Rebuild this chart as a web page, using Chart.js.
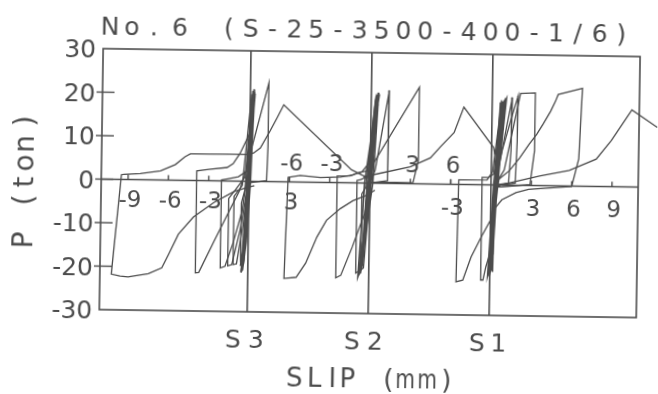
<!DOCTYPE html>
<html>
<head>
<meta charset="utf-8">
<script src="https://cdn.jsdelivr.net/npm/chart.js@4.4.1/dist/chart.umd.min.js"></script>
<style>
  html, body { margin: 0; padding: 0; background: #fff; overflow: hidden; }
  /* the scanned sheet sits slightly skewed */
  #wrap { width: 658px; height: 394px; transform: rotate(0.85deg); transform-origin: 50% 50%; }
</style>
</head>
<body>
<div id="wrap"><canvas id="chart" width="658" height="394"></canvas></div>
<script>
// gauge origins on the shared slip axis (mm)
const S3_AT = 0, S2_AT = 9, S1_AT = 18;

const loadTicks = [30, 20, 10, 0, -10, -20, -30];
const s3Ticks = [-9, -6, -3, 3];
const s2Ticks = [-6, -3, 3, 6];
const s1Ticks = [-3, 3, 6, 9];
const gaugeNames = ['S3', 'S2', 'S1'];

// ── S3 ──
const s3EnvSlip = [9.0, 8.4, 7.6, 2.5, 2.0, 1.5, 0.8, 0.3, 0.0, -0.6, -1.5, -3.0, -4.4, -4.8, -5.5, -6.6, -8.1, -9.3, -9.5, -10.15, -9.5, -8.9, -7.4, -6.4, -5.9, -5.2, -4.1, -2.6, -1.1, 0.0, 0.4];
const s3EnvLoad = [1.0, 1.8, 3.0, 17.7, 14.6, 11.6, 7.7, 6.5, 6.2, 6.2, 6.2, 6.1, 6.1, 5.4, 3.6, 2.1, 1.4, 1.2, 1.1, -21.8, -22.2, -22.4, -21.6, -20.2, -17.0, -12.4, -8.4, -5.0, -2.4, -1.3, -1.0];
const s3CoreSlip = [0.0, 0.1, 0.2, 0.12, -0.1, -0.3, -0.4, -0.3, -0.05, 0.12, 0.28, 0.2, -0.05, -0.28, -0.45, -0.35, -0.08, 0.1, 0.25, 0.15, -0.1, -0.32, -0.5, -0.38, -0.05, 0.15, 0.3, 0.2, -0.08, -0.3, -0.42, -0.3, 0.0];
const s3CoreLoad = [0, 12, 20.8, 18.5, 0, -14, -20.5, -18, 0, 13, 21.2, 19, 0, -13, -20, -17, 0, 14, 20.5, 18, 0, -15, -21, -19, 0, 13, 21, 19, 0, -12, -19.8, -16, 0];
const s3Core2Slip = [0.05, 0.2, 0.32, 0.25, 0.0, -0.25, -0.55, -0.45, -0.1, 0.18, 0.35, 0.28, 0.02, -0.2, -0.48, -0.4, -0.12, 0.05, 0.22, 0.3, 0.1, -0.15, -0.35, -0.25, 0.05];
const s3Core2Load = [0, 11, 19.8, 17, 0, -12, -19.5, -18, 0, 12, 20.2, 18, 0, -12, -20.8, -18, 0, 10, 18, 20.5, 0, -14, -19.2, -16, 0];
const s3LoopASlip = [0.25, 0.0, -0.5, -0.7, -1.2, -1.65, -3.0, -3.9, -3.9, -3.65, -2.5, -1.4, -0.7, -0.2, 0.1, 0.3];
const s3LoopALoad = [20, 11, 7.7, 6.4, 4.0, 3.1, 2.6, 2.2, -21.2, -21.1, -13.6, -6.6, -2.2, 3, 12, 20.5];
const s3LoopBSlip = [0.2, -0.1, -0.8, -1.6, -2.05, -2.05, -1.7, -1.1, -0.5, -0.1, 0.15];
const s3LoopBLoad = [18, 2.5, 1.0, 0.5, 0.2, -20.0, -19.6, -14, -7, 2, 19];
const s3LoopCSlip = [0.15, -0.3, -1.0, -1.5, -1.5, -1.2, -0.6, -0.2, 0.2];
const s3LoopCLoad = [19, 1.0, -2, -4, -19.5, -19.2, -11, -3, 19.5];
const s3LoopDSlip = [0.1, -0.5, -1.1, -1.1, -0.85, -0.4, -0.1, 0.25];
const s3LoopDLoad = [20, -1, -3.5, -19.2, -19, -10, -1, 20.2];
const s3LoopESlip = [0.2, -0.3, -0.55, -0.55, -0.35, -0.05, 0.2];
const s3LoopELoad = [20, -2, -5, -18.5, -18.3, -4, 19.8];
const s3PeakSlip = [-0.2, 0.05, 1.37, 1.37, 1.3, 0.3, -0.2];
const s3PeakLoad = [-0.5, 6.3, 22.7, 8, 0.2, -0.2, -0.5];

// ── S2 ──
const s2EnvSlip = [0.1, -0.97, -1.3, -2.2, -3.7, -5.2, -5.95, -6.1, -6.3, -5.4, -4.7, -3.9, -3.2, -2.2, -1.26, -0.22, 0.37];
const s2EnvLoad = [3.0, 2.3, 1.8, 1.3, 1.1, 1.5, 1.1, 1.0, -22.2, -21.9, -18.6, -12.6, -8.7, -6.0, -4.1, -2.8, -1.6];
const s2RiseSlip = [-0.5, 0.74, 2.97, 4.46, 5.2, 6.2, 6.9, 9.15, 9.25];
const s2RiseLoad = [1.4, 2.3, 3.9, 6.0, 8.6, 11.9, 17.8, 8.6, 7.0];
const s2CoreSlip = [-0.15, 0.2, 0.45, 0.3, -0.1, -0.45, -0.7, -0.5, -0.1, 0.25, 0.55, 0.4, 0.0, -0.4, -0.65, -0.45, -0.05, 0.3, 0.6, 0.45, 0.0, -0.45, -0.75, -0.55, -0.1, 0.25, 0.5, 0.35, -0.05, -0.4, -0.7, -0.5, -0.15];
const s2CoreLoad = [0, 12, 20.3, 18, 0, -14, -21, -19, 0, 13, 20.8, 19, 0, -13, -20.3, -18, 0, 14, 20.5, 18, 0, -15, -21.2, -19, 0, 13, 20.6, 18.5, 0, -12, -20.5, -17, 0];
const s2Core2Slip = [-0.1, 0.15, 0.38, 0.5, 0.2, -0.3, -0.6, -0.8, -0.4, 0.1, 0.32, 0.42, 0.05, -0.35, -0.55, -0.62, -0.2];
const s2Core2Load = [0, 11, 19.5, 18, 0, -12, -19.8, -21.5, 0, 12, 19, 20.2, 0, -13, -19, -20.8, 0];
const s2LoopASlip = [0.45, 0.0, -0.6, -1.5, -2.45, -2.45, -2.08, -1.26, -0.37, 0.1, 0.45];
const s2LoopALoad = [20, 5, 2.6, 1.6, 1.5, -21.9, -21.3, -14.8, -7.0, 1, 19.5];
const s2LoopBSlip = [0.4, -0.2, -0.7, -0.97, -0.97, -0.75, -0.4, 0.0, 0.4];
const s2LoopBLoad = [19.8, 1.5, 0.8, 0.6, -20.7, -20.3, -12, -1, 20];
const s2LoopCSlip = [0.35, -0.3, -0.6, -0.6, -0.4, -0.05, 0.35];
const s2LoopCLoad = [20, -1, -2.5, -20, -19.5, -5, 19.6];
const s2PeakASlip = [0.0, 0.37, 1.34, 1.3, 0.1];
const s2PeakALoad = [0, 3.0, 21.4, 0.6, 0.1];
const s2PeakBSlip = [0.0, 0.22, 3.57, 3.57, 3.2, 0.5, 0.0];
const s2PeakBLoad = [0.2, 4.5, 22.2, 5.4, 0.3, 0.2, 0.2];

// ── S1 ──
const s1BigSlip = [0.7, 0.1, -0.3, -2.4, -2.5, -2.0, -1.4, -0.67, 0.0, 0.3, 0.6, 1.34, 2.1, 2.8, 3.35, 3.8, 4.35, 4.7, 4.9, 6.7, 6.5, 6.0, 2.8, 1.86, 0.82, 0.22];
const s1BigLoad = [19, 3, 1.1, 1.05, -22.4, -22.0, -16.6, -12.0, -8.1, -3.0, 1.4, 3.3, 6.3, 9.5, 11.8, 14.1, 17.1, 19.4, 21.0, 22.5, 6.3, -0.1, -0.9, -1.7, -3.4, -5.7];
const s1CoreSlip = [0.3, 0.6, 0.8, 0.7, 0.3, 0.0, -0.1, 0.05, 0.3, 0.65, 0.9, 0.8, 0.35, 0.05, -0.05, 0.1, 0.35, 0.7, 1.0, 0.85, 0.4, 0.1, 0.0, 0.15, 0.4, 0.6, 0.75, 0.6, 0.3, 0.1, 0.2, 0.3];
const s1CoreLoad = [0, 12, 19, 17, 0, -15, -20.5, -18, 0, 13, 19.5, 18, 0, -14, -21, -19, 0, 14, 20, 17, 0, -13, -19.5, -17, 0, 12, 19.2, 17, 0, -17, -20, 0];
const s1Core2Slip = [0.35, 0.55, 0.72, 0.95, 0.5, 0.15, 0.05, -0.15, 0.2, 0.5, 0.85, 1.05, 0.45, 0.2, 0.3];
const s1Core2Load = [0, 11, 18, 19.2, 0, -12, -18.5, -20.8, 0, 10, 18.5, 19.8, 0, -16, 0];
const s1LoopASlip = [0.7, 0.2, -0.2, -0.67, -0.67, -0.5, -0.3, 0.0, 0.3, 0.6];
const s1LoopALoad = [19.5, 2.5, 1.7, 1.7, -21.9, -21.9, -18.9, -15.7, -4, 19];
const s1PeakASlip = [0.3, 0.9, 1.5, 1.45, 1.3, 0.4];
const s1PeakALoad = [0, 10, 20.2, 8, 0.5, 0];
const s1PeakBSlip = [0.3, 0.8, 1.5, 1.93, 1.9, 1.8, 0.5];
const s1PeakBLoad = [0, 8, 16, 20.6, 10, 0.5, 0];
const s1PeakCSlip = [0.5, 0.97, 2.1, 3.2, 3.2, 2.9, 0.8, 0.3];
const s1PeakCLoad = [1, 3.5, 21.1, 21.3, 8, 0.2, -0.4, -0.5];
const s1RiseSlip = [0.4, 0.8, 3.6, 5.8, 7.8, 8.9, 10.4, 12.3];
const s1RiseLoad = [-0.5, 0.1, 2.2, 3.6, 6.3, 10.6, 17.7, 13.8];

const INK = '#4c4c4c';
const FONT = '"DejaVu Sans", sans-serif';

function curve(slip, load, at, opts = {}) {
  return {
    data: slip.map((s, i) => ({ x: s + at, y: load[i] })),
    showLine: true, pointRadius: 0, borderColor: INK, borderWidth: opts.width || 1.3,
    tension: 0, fill: false, clip: opts.clip === false ? false : undefined,
  };
}

const datasets = [
  curve(s3EnvSlip, s3EnvLoad, S3_AT),
  curve(s3CoreSlip, s3CoreLoad, S3_AT, { width: 1.7 }),
  curve(s3Core2Slip, s3Core2Load, S3_AT, { width: 1.7 }),
  curve(s3LoopASlip, s3LoopALoad, S3_AT),
  curve(s3LoopBSlip, s3LoopBLoad, S3_AT),
  curve(s3LoopCSlip, s3LoopCLoad, S3_AT),
  curve(s3LoopDSlip, s3LoopDLoad, S3_AT),
  curve(s3LoopESlip, s3LoopELoad, S3_AT),
  curve(s3PeakSlip, s3PeakLoad, S3_AT),
  curve(s2EnvSlip, s2EnvLoad, S2_AT),
  curve(s2RiseSlip, s2RiseLoad, S2_AT),
  curve(s2CoreSlip, s2CoreLoad, S2_AT, { width: 1.7 }),
  curve(s2Core2Slip, s2Core2Load, S2_AT, { width: 1.7 }),
  curve(s2LoopASlip, s2LoopALoad, S2_AT),
  curve(s2LoopBSlip, s2LoopBLoad, S2_AT),
  curve(s2LoopCSlip, s2LoopCLoad, S2_AT),
  curve(s2PeakASlip, s2PeakALoad, S2_AT),
  curve(s2PeakBSlip, s2PeakBLoad, S2_AT),
  curve(s1BigSlip, s1BigLoad, S1_AT),
  curve(s1CoreSlip, s1CoreLoad, S1_AT, { width: 1.7 }),
  curve(s1Core2Slip, s1Core2Load, S1_AT, { width: 1.7 }),
  curve(s1LoopASlip, s1LoopALoad, S1_AT),
  curve(s1PeakASlip, s1PeakALoad, S1_AT),
  curve(s1PeakBSlip, s1PeakBLoad, S1_AT),
  curve(s1PeakCSlip, s1PeakCLoad, S1_AT),
  curve(s1RiseSlip, s1RiseLoad, S1_AT, { clip: false }),
];

// draws glyphs one by one, like the plotter's fixed-pitch lettering
function glyphs(ctx, str, x0, pitch, y) {
  ctx.textAlign = 'center';
  for (let i = 0; i < str.length; i++) ctx.fillText(str[i], x0 + i * pitch, y);
}

const framePlugin = {
  id: 'frame',
  afterDatasetsDraw(chart) {
    const { ctx, chartArea: a, scales: { x, y } } = chart;
    const seg = (x1, y1, x2, y2) => { ctx.beginPath(); ctx.moveTo(x1, y1); ctx.lineTo(x2, y2); ctx.stroke(); };
    ctx.save();
    ctx.strokeStyle = INK;
    ctx.fillStyle = INK;
    ctx.lineWidth = 1.6;
    ctx.strokeRect(a.left, a.top, a.right - a.left, a.bottom - a.top);

    [S3_AT, S2_AT, S1_AT].forEach(v => { const px = x.getPixelForValue(v); seg(px, a.top, px, a.bottom); });
    const y0 = y.getPixelForValue(0);
    ctx.lineWidth = 1.4;
    seg(a.left, y0, a.right, y0);

    // load axis
    ctx.font = `25px ${FONT}`;
    ctx.textAlign = 'right';
    ctx.textBaseline = 'alphabetic';
    loadTicks.forEach(t => {
      const py = y.getPixelForValue(t);
      if (t !== 30 && t !== -30) seg(a.left - 6, py, a.left + 12, py);
      ctx.fillText(String(t), a.left - 7, py + 9);
    });

    // slip ticks and labels inside the frame
    ctx.font = `23px ${FONT}`;
    ctx.textAlign = 'center';
    const rows = [[s3Ticks, S3_AT, 19.5], [s2Ticks, S2_AT, -20], [s1Ticks, S1_AT, 22.5]];
    rows.forEach(([ticks, at, dy]) => {
      ticks.forEach(t => {
        const px = x.getPixelForValue(t + at);
        seg(px, y0, px, y0 - 5);
        ctx.fillText(String(t), px + 2, y0 + dy + 8.4);
      });
    });

    // gauge names under the frame
    ctx.font = `25px ${FONT}`;
    const nameAt = [235, 354, 479];
    gaugeNames.forEach((n, i) => glyphs(ctx, n, nameAt[i], i === 2 ? 21.5 : 23, 349));

    // title
    glyphs(ctx, 'No.', 107.5, 22, 37.5);
    glyphs(ctx, '6', 177.5, 0, 37.5);
    glyphs(ctx, '(S-25-3500-400-1/6)', 226.5, 21.8, 37.5);

    // slip axis title
    ctx.font = `26px ${FONT}`;
    const sx = [297, 317, 335, 350, 391, 408, 430, 449];
    'SLIP(mm)'.split('').forEach((c, i) => {
      ctx.save();
      ctx.translate(sx[i], 387);
      if (c === 'm') ctx.scale(0.78, 1);
      ctx.textAlign = 'center';
      ctx.fillText(c, 0, 0);
      ctx.restore();
    });

    // load axis title, rotated
    ctx.font = `28px ${FONT}`;
    const ly = [244.5, 204.5, 186.5, 167.5, 148.5, 125.5];
    'P(ton)'.split('').forEach((c, i) => {
      ctx.save();
      ctx.translate(33, ly[i]);
      ctx.rotate(-Math.PI / 2);
      ctx.textAlign = 'center';
      ctx.fillText(c, 0, 0);
      ctx.restore();
    });
    ctx.restore();
  }
};

new Chart(document.getElementById('chart'), {
  type: 'scatter',
  data: { datasets },
  options: {
    responsive: false,
    animation: false,
    devicePixelRatio: 1,
    layout: { padding: { left: 101, right: 20, top: 52, bottom: 81 } },
    plugins: { legend: { display: false }, tooltip: { enabled: false } },
    scales: {
      x: { type: 'linear', display: false, min: -11, max: 28.95 },
      y: { type: 'linear', display: false, min: -30, max: 30 },
    },
  },
  plugins: [framePlugin],
});
</script>
</body>
</html>
